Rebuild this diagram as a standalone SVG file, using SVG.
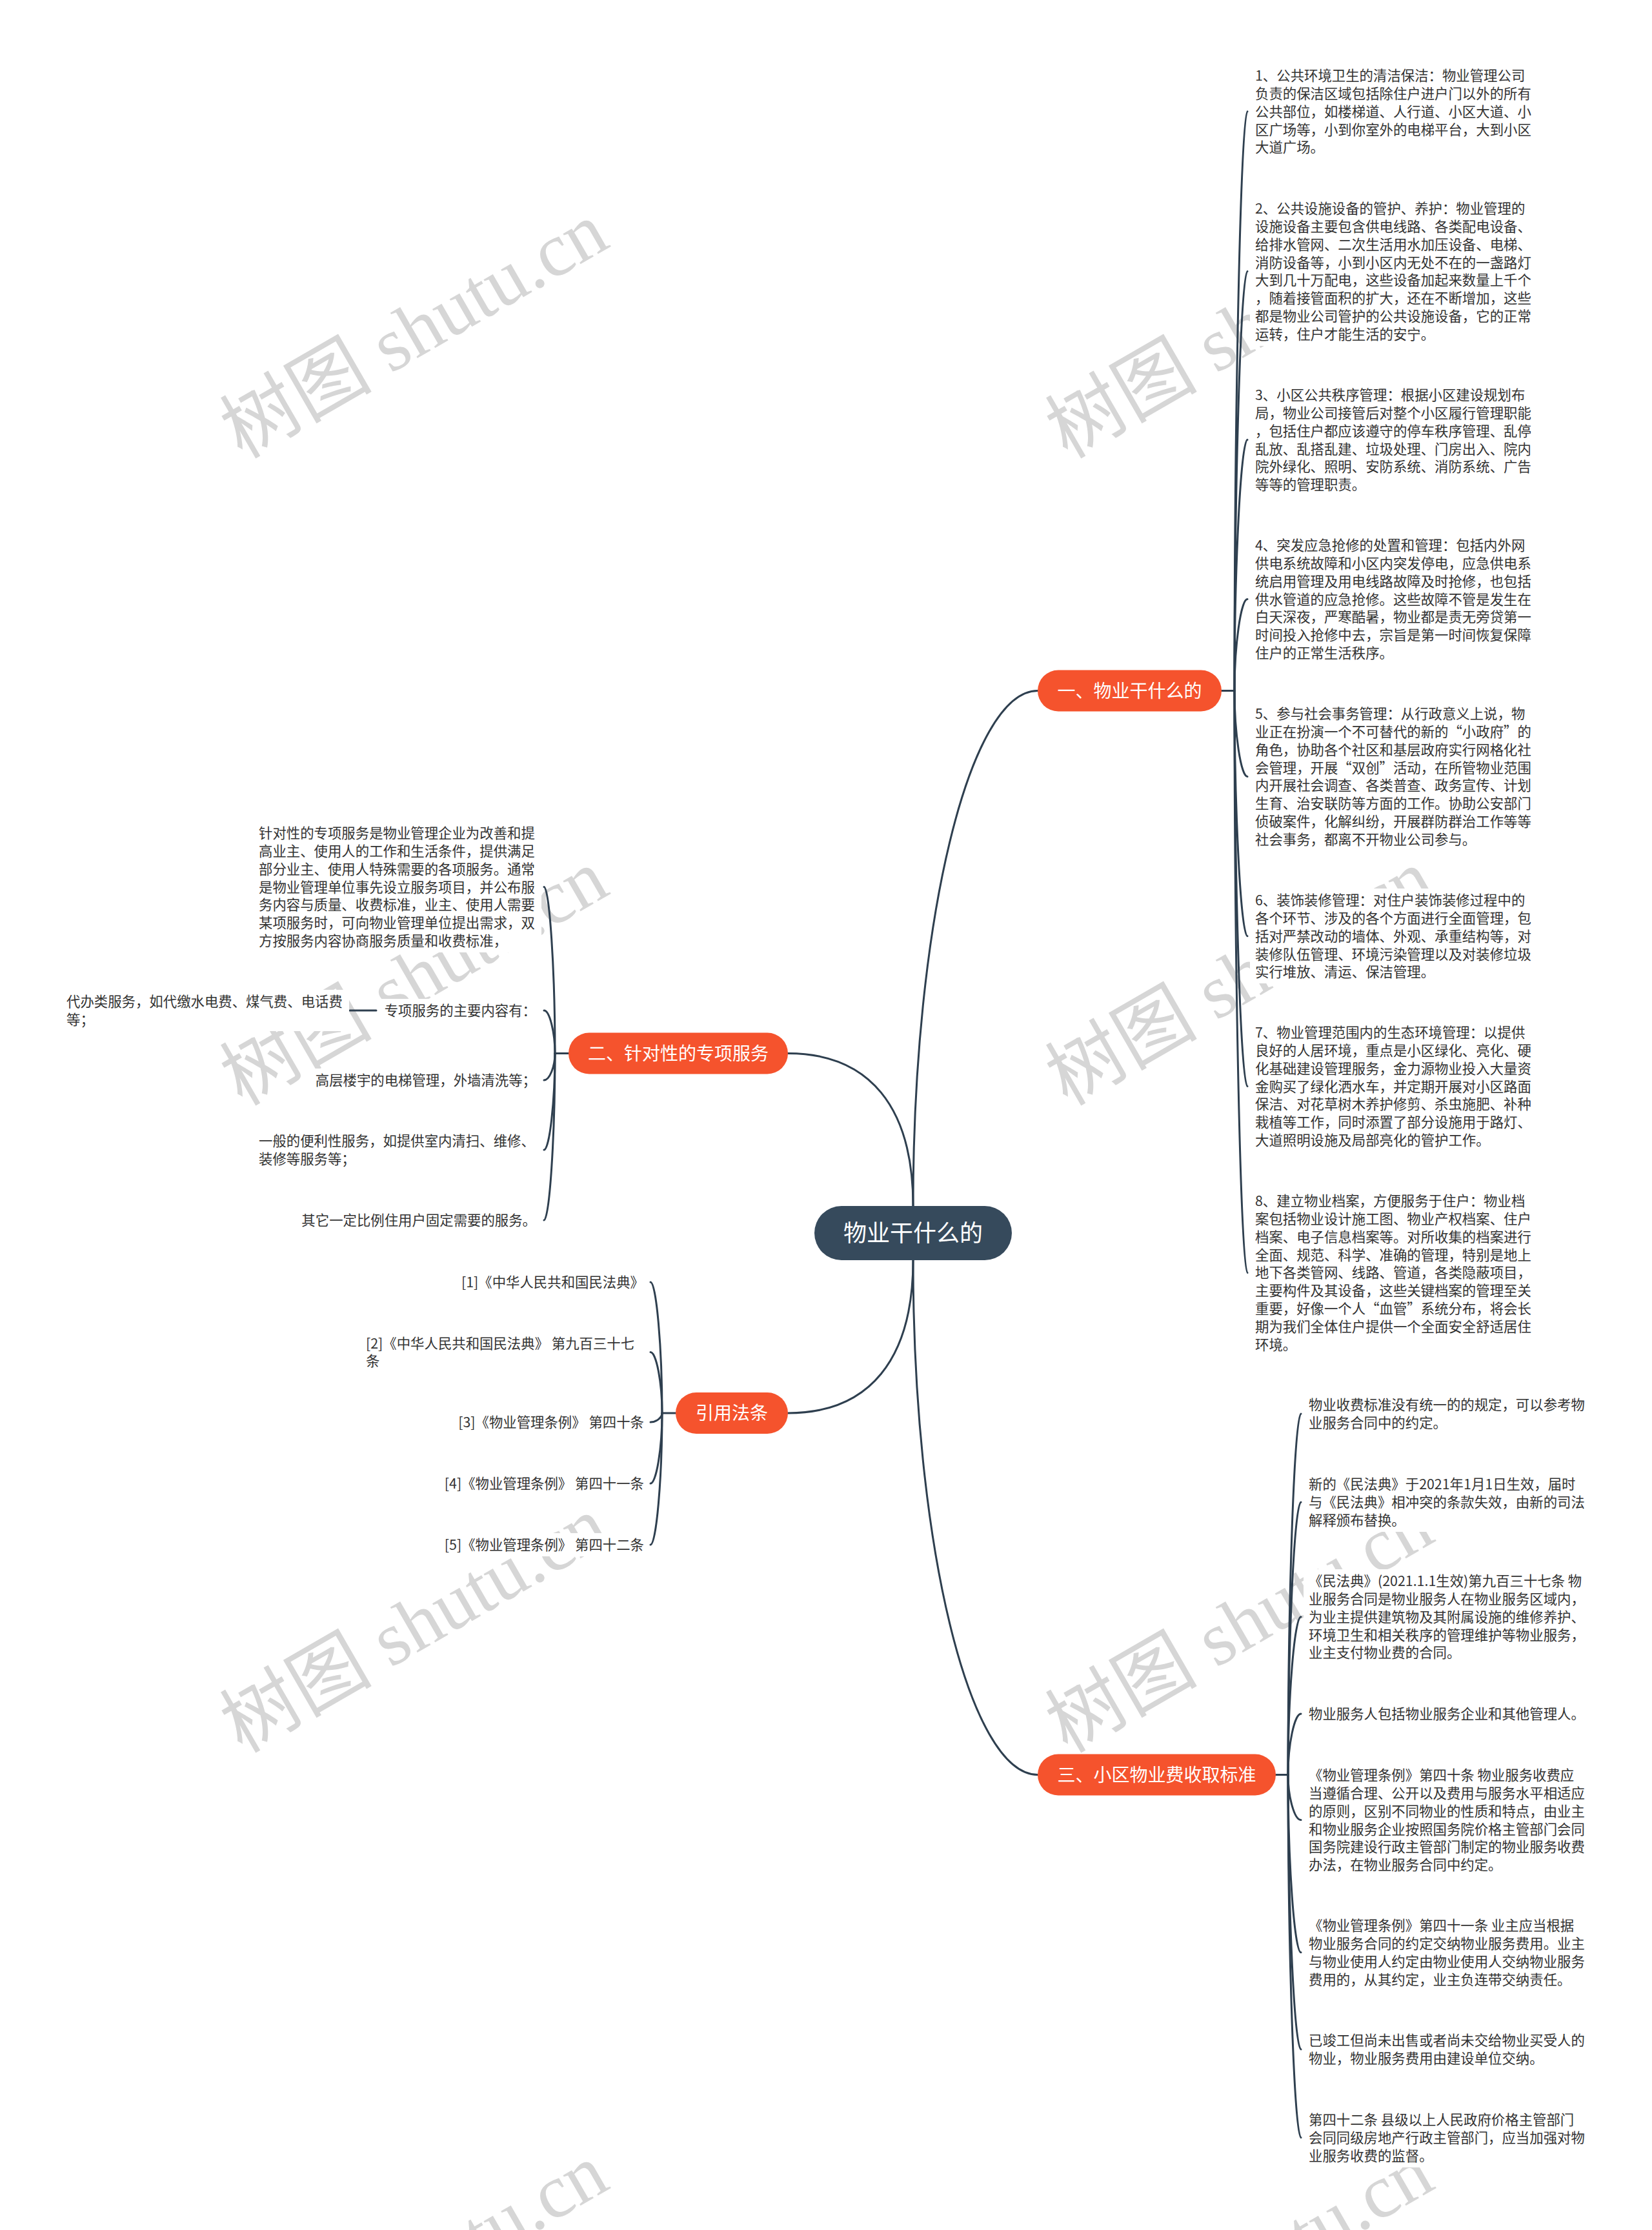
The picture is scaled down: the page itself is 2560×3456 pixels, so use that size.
<svg xmlns="http://www.w3.org/2000/svg" width="2560" height="3456" viewBox="0 0 2560 3456">
<style>
.t{font-family:'Noto Sans CJK SC','Noto Sans',sans-serif;font-size:21.4px;fill:#333333}
.e{text-anchor:end}
.n{font-family:'Noto Sans CJK SC','Noto Sans',sans-serif;font-size:28px;fill:#ffffff;text-anchor:middle}
.c{font-size:36px}
.bg{fill:#ffffff}
.ob{fill:#F5532D}
.cb{fill:#364A5C}
.ln{fill:none;stroke:#2E3F4F;stroke-width:3;stroke-linecap:round}
.wm{font-family:'Liberation Serif','Noto Sans CJK SC',serif;font-size:118px;fill:#d6d6d6}
</style>
<rect width="2560" height="3456" fill="#ffffff"/>
<g id="watermarks">
<text class="wm" transform="translate(375,712) rotate(-30)">树图 shutu.cn</text>
<text class="wm" transform="translate(1654,712) rotate(-30)">树图 shutu.cn</text>
<text class="wm" transform="translate(375,1715) rotate(-30)">树图 shutu.cn</text>
<text class="wm" transform="translate(1654,1715) rotate(-30)">树图 shutu.cn</text>
<text class="wm" transform="translate(375,2718) rotate(-30)">树图 shutu.cn</text>
<text class="wm" transform="translate(1654,2718) rotate(-30)">树图 shutu.cn</text>
<text class="wm" transform="translate(375,3721) rotate(-30)">树图 shutu.cn</text>
<text class="wm" transform="translate(1654,3721) rotate(-30)">树图 shutu.cn</text>
</g>
<g id="connectors">
<path class="ln" d="M1415,1869 C1415,1429.8 1501.9,1070.5 1608,1070.5"/>
<path class="ln" d="M1415,1869 C1415,1715.3 1347.1,1632.5 1221,1632.5"/>
<path class="ln" d="M1415,1953 C1415,2107 1347.1,2190 1221,2190"/>
<path class="ln" d="M1415,1953 C1415,2391.6 1501.9,2750.5 1608,2750.5"/>
<path class="ln" d="M1893,1070.5 H1913"/>
<path class="ln" d="M1913,1070.5 C1913,621.6 1923,172.7 1933,172.7"/>
<path class="ln" d="M1913,1070.5 C1913,745.5 1923,420.5 1933,420.5"/>
<path class="ln" d="M1913,1070.5 C1913,876 1923,681.6 1933,681.6"/>
<path class="ln" d="M1913,1070.5 C1913,999.5 1923,928.6 1933,928.6"/>
<path class="ln" d="M1913,1070.5 C1913,1137 1923,1203.5 1933,1203.5"/>
<path class="ln" d="M1913,1070.5 C1913,1260.6 1923,1450.7 1933,1450.7"/>
<path class="ln" d="M1913,1070.5 C1913,1377 1923,1683.6 1933,1683.6"/>
<path class="ln" d="M1913,1070.5 C1913,1521.5 1923,1972.4 1933,1972.4"/>
<path class="ln" d="M1977,2750.5 H1996"/>
<path class="ln" d="M1996,2750.5 C1996,2470.8 2006,2191 2016,2191"/>
<path class="ln" d="M1996,2750.5 C1996,2539.3 2006,2328 2016,2328"/>
<path class="ln" d="M1996,2750.5 C1996,2628.1 2006,2505.7 2016,2505.7"/>
<path class="ln" d="M1996,2750.5 C1996,2703.3 2006,2656 2016,2656"/>
<path class="ln" d="M1996,2750.5 C1996,2785.6 2006,2820.6 2016,2820.6"/>
<path class="ln" d="M1996,2750.5 C1996,2888.2 2006,3025.8 2016,3025.8"/>
<path class="ln" d="M1996,2750.5 C1996,2963.3 2006,3176 2016,3176"/>
<path class="ln" d="M1996,2750.5 C1996,3031.7 2006,3312.8 2016,3312.8"/>
<path class="ln" d="M881,1632.5 H860"/>
<path class="ln" d="M860,1632.5 C860,1503.6 851.5,1374.6 843,1374.6"/>
<path class="ln" d="M860,1632.5 C860,1599.3 851.5,1566 843,1566"/>
<path class="ln" d="M860,1632.5 C860,1653.3 851.5,1674 843,1674"/>
<path class="ln" d="M860,1632.5 C860,1707.3 851.5,1782 843,1782"/>
<path class="ln" d="M860,1632.5 C860,1761.8 851.5,1891 843,1891"/>
<path class="ln" d="M583,1566 H542"/>
<path class="ln" d="M1047,2190 H1026"/>
<path class="ln" d="M1026,2190 C1026,2088.5 1017,1987 1008,1987"/>
<path class="ln" d="M1026,2190 C1026,2142.8 1017,2095.5 1008,2095.5"/>
<path class="ln" d="M1026,2190 C1026,2197 1017,2204 1008,2204"/>
<path class="ln" d="M1026,2190 C1026,2244.5 1017,2299 1008,2299"/>
<path class="ln" d="M1026,2190 C1026,2292 1017,2394 1008,2394"/>
</g>
<g id="center">
<rect class="cb" x="1262" y="1869" width="306" height="84" rx="42"/>
<text class="n c" x="1415" y="1924">物业干什么的</text>
</g>
<g id="b1">
<rect class="ob" x="1608" y="1038.5" width="285" height="64" rx="32"/>
<text class="n" x="1750.5" y="1080.5">一、物业干什么的</text>
</g>
<g id="b2">
<rect class="ob" x="881" y="1600.5" width="340" height="64" rx="32"/>
<text class="n" x="1051" y="1642.5">二、针对性的专项服务</text>
</g>
<g id="b3">
<rect class="ob" x="1047" y="2158" width="174" height="64" rx="32"/>
<text class="n" x="1134" y="2200">引用法条</text>
</g>
<g id="b4">
<rect class="ob" x="1608" y="2718.5" width="369" height="64" rx="32"/>
<text class="n" x="1792.5" y="2760.5">三、小区物业费收取标准</text>
</g>
<g id="b1-1">
<rect class="bg" x="1937" y="99" width="446" height="148"/>
<text class="t" x="1945" y="125"><tspan x="1945">1、公共环境卫生的清洁保洁：物业管理公司</tspan><tspan x="1945" dy="27.85">负责的保洁区域包括除住户进户门以外的所有</tspan><tspan x="1945" dy="27.85">公共部位，如楼梯道、人行道、小区大道、小</tspan><tspan x="1945" dy="27.85">区广场等，小到你室外的电梯平台，大到小区</tspan><tspan x="1945" dy="27.85">大道广场。</tspan></text>
</g>
<g id="b1-2">
<rect class="bg" x="1937" y="305" width="446" height="231"/>
<text class="t" x="1945" y="331"><tspan x="1945">2、公共设施设备的管护、养护：物业管理的</tspan><tspan x="1945" dy="27.85">设施设备主要包含供电线路、各类配电设备、</tspan><tspan x="1945" dy="27.85">给排水管网、二次生活用水加压设备、电梯、</tspan><tspan x="1945" dy="27.85">消防设备等，小到小区内无处不在的一盏路灯</tspan><tspan x="1945" dy="27.85">大到几十万配电，这些设备加起来数量上千个</tspan><tspan x="1945" dy="27.85">，随着接管面积的扩大，还在不断增加，这些</tspan><tspan x="1945" dy="27.85">都是物业公司管护的公共设施设备，它的正常</tspan><tspan x="1945" dy="27.85">运转，住户才能生活的安宁。</tspan></text>
</g>
<g id="b1-3">
<rect class="bg" x="1937" y="594" width="446" height="175"/>
<text class="t" x="1945" y="620"><tspan x="1945">3、小区公共秩序管理：根据小区建设规划布</tspan><tspan x="1945" dy="27.85">局，物业公司接管后对整个小区履行管理职能</tspan><tspan x="1945" dy="27.85">，包括住户都应该遵守的停车秩序管理、乱停</tspan><tspan x="1945" dy="27.85">乱放、乱搭乱建、垃圾处理、门房出入、院内</tspan><tspan x="1945" dy="27.85">院外绿化、照明、安防系统、消防系统、广告</tspan><tspan x="1945" dy="27.85">等等的管理职责。</tspan></text>
</g>
<g id="b1-4">
<rect class="bg" x="1937" y="827" width="446" height="203"/>
<text class="t" x="1945" y="853"><tspan x="1945">4、突发应急抢修的处置和管理：包括内外网</tspan><tspan x="1945" dy="27.85">供电系统故障和小区内突发停电，应急供电系</tspan><tspan x="1945" dy="27.85">统启用管理及用电线路故障及时抢修，也包括</tspan><tspan x="1945" dy="27.85">供水管道的应急抢修。这些故障不管是发生在</tspan><tspan x="1945" dy="27.85">白天深夜，严寒酷暑，物业都是责无旁贷第一</tspan><tspan x="1945" dy="27.85">时间投入抢修中去，宗旨是第一时间恢复保障</tspan><tspan x="1945" dy="27.85">住户的正常生活秩序。</tspan></text>
</g>
<g id="b1-5">
<rect class="bg" x="1937" y="1088" width="446" height="231"/>
<text class="t" x="1945" y="1114"><tspan x="1945">5、参与社会事务管理：从行政意义上说，物</tspan><tspan x="1945" dy="27.85">业正在扮演一个不可替代的新的“小政府”的</tspan><tspan x="1945" dy="27.85">角色，协助各个社区和基层政府实行网格化社</tspan><tspan x="1945" dy="27.85">会管理，开展“双创”活动，在所管物业范围</tspan><tspan x="1945" dy="27.85">内开展社会调查、各类普查、政务宣传、计划</tspan><tspan x="1945" dy="27.85">生育、治安联防等方面的工作。协助公安部门</tspan><tspan x="1945" dy="27.85">侦破案件，化解纠纷，开展群防群治工作等等</tspan><tspan x="1945" dy="27.85">社会事务，都离不开物业公司参与。</tspan></text>
</g>
<g id="b1-6">
<rect class="bg" x="1937" y="1377" width="446" height="147"/>
<text class="t" x="1945" y="1403"><tspan x="1945">6、装饰装修管理：对住户装饰装修过程中的</tspan><tspan x="1945" dy="27.85">各个环节、涉及的各个方面进行全面管理，包</tspan><tspan x="1945" dy="27.85">括对严禁改动的墙体、外观、承重结构等，对</tspan><tspan x="1945" dy="27.85">装修队伍管理、环境污染管理以及对装修垃圾</tspan><tspan x="1945" dy="27.85">实行堆放、清运、保洁管理。</tspan></text>
</g>
<g id="b1-7">
<rect class="bg" x="1937" y="1582" width="446" height="203"/>
<text class="t" x="1945" y="1608"><tspan x="1945">7、物业管理范围内的生态环境管理：以提供</tspan><tspan x="1945" dy="27.85">良好的人居环境，重点是小区绿化、亮化、硬</tspan><tspan x="1945" dy="27.85">化基础建设管理服务，金力源物业投入大量资</tspan><tspan x="1945" dy="27.85">金购买了绿化洒水车，并定期开展对小区路面</tspan><tspan x="1945" dy="27.85">保洁、对花草树木养护修剪、杀虫施肥、补种</tspan><tspan x="1945" dy="27.85">栽植等工作，同时添置了部分设施用于路灯、</tspan><tspan x="1945" dy="27.85">大道照明设施及局部亮化的管护工作。</tspan></text>
</g>
<g id="b1-8">
<rect class="bg" x="1937" y="1843" width="446" height="259"/>
<text class="t" x="1945" y="1869"><tspan x="1945">8、建立物业档案，方便服务于住户：物业档</tspan><tspan x="1945" dy="27.85">案包括物业设计施工图、物业产权档案、住户</tspan><tspan x="1945" dy="27.85">档案、电子信息档案等。对所收集的档案进行</tspan><tspan x="1945" dy="27.85">全面、规范、科学、准确的管理，特别是地上</tspan><tspan x="1945" dy="27.85">地下各类管网、线路、管道，各类隐蔽项目，</tspan><tspan x="1945" dy="27.85">主要构件及其设备，这些关键档案的管理至关</tspan><tspan x="1945" dy="27.85">重要，好像一个人“血管”系统分布，将会长</tspan><tspan x="1945" dy="27.85">期为我们全体住户提供一个全面安全舒适居住</tspan><tspan x="1945" dy="27.85">环境。</tspan></text>
</g>
<g id="b2-1">
<rect class="bg" x="393" y="1273" width="446" height="203"/>
<text class="t" x="401" y="1299"><tspan x="401">针对性的专项服务是物业管理企业为改善和提</tspan><tspan x="401" dy="27.85">高业主、使用人的工作和生活条件，提供满足</tspan><tspan x="401" dy="27.85">部分业主、使用人特殊需要的各项服务。通常</tspan><tspan x="401" dy="27.85">是物业管理单位事先设立服务项目，并公布服</tspan><tspan x="401" dy="27.85">务内容与质量、收费标准，业主、使用人需要</tspan><tspan x="401" dy="27.85">某项服务时，可向物业管理单位提出需求，双</tspan><tspan x="401" dy="27.85">方按服务内容协商服务质量和收费标准，</tspan></text>
</g>
<g id="b2-2">
<rect class="bg" x="588" y="1548" width="251" height="36"/>
<text class="t e" x="831" y="1574">专项服务的主要内容有：</text>
</g>
<g id="b2-2-1">
<rect class="bg" x="95" y="1534" width="446" height="64"/>
<text class="t" x="103" y="1560"><tspan x="103">代办类服务，如代缴水电费、煤气费、电话费</tspan><tspan x="103" dy="27.85">等；</tspan></text>
</g>
<g id="b2-3">
<rect class="bg" x="481" y="1656" width="358" height="36"/>
<text class="t e" x="831" y="1682">高层楼宇的电梯管理，外墙清洗等；</text>
</g>
<g id="b2-4">
<rect class="bg" x="393" y="1750" width="446" height="64"/>
<text class="t" x="401" y="1776"><tspan x="401">一般的便利性服务，如提供室内清扫、维修、</tspan><tspan x="401" dy="27.85">装修等服务等；</tspan></text>
</g>
<g id="b2-5">
<rect class="bg" x="459" y="1873" width="380" height="36"/>
<text class="t e" x="831" y="1899">其它一定比例住用户固定需要的服务。</text>
</g>
<g id="b3-1">
<rect class="bg" x="727" y="1969" width="279" height="36"/>
<text class="t e" x="998" y="1995">[1]《中华人民共和国民法典》</text>
</g>
<g id="b3-2">
<rect class="bg" x="559" y="2063" width="447" height="64"/>
<text class="t" x="567" y="2089.5"><tspan x="567">[2]《中华人民共和国民法典》 第九百三十七</tspan><tspan x="567" dy="27.85">条</tspan></text>
</g>
<g id="b3-3">
<rect class="bg" x="700" y="2186" width="306" height="36"/>
<text class="t e" x="998" y="2212">[3]《物业管理条例》 第四十条</text>
</g>
<g id="b3-4">
<rect class="bg" x="680" y="2281" width="326" height="36"/>
<text class="t e" x="998" y="2307">[4]《物业管理条例》 第四十一条</text>
</g>
<g id="b3-5">
<rect class="bg" x="680" y="2376" width="326" height="36"/>
<text class="t e" x="998" y="2402">[5]《物业管理条例》 第四十二条</text>
</g>
<g id="b4-1">
<rect class="bg" x="2020" y="2159" width="446" height="64"/>
<text class="t" x="2028" y="2185"><tspan x="2028">物业收费标准没有统一的的规定，可以参考物</tspan><tspan x="2028" dy="27.85">业服务合同中的约定。</tspan></text>
</g>
<g id="b4-2">
<rect class="bg" x="2020" y="2282" width="446" height="92"/>
<text class="t" x="2028" y="2308"><tspan x="2028">新的《民法典》于2021年1月1日生效，届时</tspan><tspan x="2028" dy="27.85">与《民法典》相冲突的条款失效，由新的司法</tspan><tspan x="2028" dy="27.85">解释颁布替换。</tspan></text>
</g>
<g id="b4-3">
<rect class="bg" x="2020" y="2432" width="446" height="147"/>
<text class="t" x="2028" y="2458"><tspan x="2028">《民法典》(2021.1.1生效)第九百三十七条 物</tspan><tspan x="2028" dy="27.85">业服务合同是物业服务人在物业服务区域内，</tspan><tspan x="2028" dy="27.85">为业主提供建筑物及其附属设施的维修养护、</tspan><tspan x="2028" dy="27.85">环境卫生和相关秩序的管理维护等物业服务，</tspan><tspan x="2028" dy="27.85">业主支付物业费的合同。</tspan></text>
</g>
<g id="b4-4">
<rect class="bg" x="2020" y="2638" width="446" height="36"/>
<text class="t" x="2028" y="2664">物业服务人包括物业服务企业和其他管理人。</text>
</g>
<g id="b4-5">
<rect class="bg" x="2020" y="2733" width="446" height="175"/>
<text class="t" x="2028" y="2759"><tspan x="2028">《物业管理条例》第四十条 物业服务收费应</tspan><tspan x="2028" dy="27.85">当遵循合理、公开以及费用与服务水平相适应</tspan><tspan x="2028" dy="27.85">的原则，区别不同物业的性质和特点，由业主</tspan><tspan x="2028" dy="27.85">和物业服务企业按照国务院价格主管部门会同</tspan><tspan x="2028" dy="27.85">国务院建设行政主管部门制定的物业服务收费</tspan><tspan x="2028" dy="27.85">办法，在物业服务合同中约定。</tspan></text>
</g>
<g id="b4-6">
<rect class="bg" x="2020" y="2966" width="446" height="120"/>
<text class="t" x="2028" y="2992"><tspan x="2028">《物业管理条例》第四十一条 业主应当根据</tspan><tspan x="2028" dy="27.85">物业服务合同的约定交纳物业服务费用。业主</tspan><tspan x="2028" dy="27.85">与物业使用人约定由物业使用人交纳物业服务</tspan><tspan x="2028" dy="27.85">费用的，从其约定，业主负连带交纳责任。</tspan></text>
</g>
<g id="b4-7">
<rect class="bg" x="2020" y="3144" width="446" height="64"/>
<text class="t" x="2028" y="3170"><tspan x="2028">已竣工但尚未出售或者尚未交给物业买受人的</tspan><tspan x="2028" dy="27.85">物业，物业服务费用由建设单位交纳。</tspan></text>
</g>
<g id="b4-8">
<rect class="bg" x="2020" y="3267" width="446" height="92"/>
<text class="t" x="2028" y="3293"><tspan x="2028">第四十二条 县级以上人民政府价格主管部门</tspan><tspan x="2028" dy="27.85">会同同级房地产行政主管部门，应当加强对物</tspan><tspan x="2028" dy="27.85">业服务收费的监督。</tspan></text>
</g>
</svg>
